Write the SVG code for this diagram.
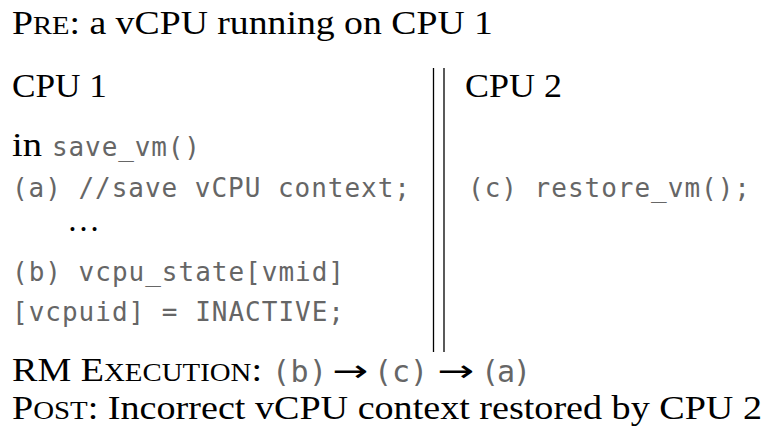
<svg xmlns="http://www.w3.org/2000/svg" width="768" height="438" viewBox="0 0 768 438">
<style>
.s{font-family:"Liberation Serif","Times New Roman",serif;font-size:33px;fill:#000}
.sc{font-size:25px}
.m{font-family:"DejaVu Sans Mono","Liberation Mono",monospace;font-size:26px;fill:#666}
.mf{font-family:"DejaVu Sans Mono","Liberation Mono",monospace;font-size:30px;fill:#666}
.ar{font-family:"DejaVu Sans","Liberation Sans",sans-serif;font-size:30px;fill:#000}
.sep{stroke:#000;stroke-width:1.3;fill:none}
</style>
<rect width="768" height="438" fill="#fff"/>
<g id="title">
<text class="s" x="12" y="34" textLength="481" lengthAdjust="spacingAndGlyphs">P<tspan class="sc">RE</tspan>: a vCPU running on CPU 1</text>
</g>
<g id="cpu1">
<text class="s" x="12" y="97" textLength="95" lengthAdjust="spacingAndGlyphs">CPU 1</text>
<text class="s" x="12" y="156" textLength="30" lengthAdjust="spacingAndGlyphs">in</text>
<text class="m" x="52" y="156" textLength="148" lengthAdjust="spacing">save_vm()</text>
<text class="m" x="12" y="197" textLength="398" lengthAdjust="spacing">(a) //save vCPU context;</text>
<text class="s" x="67" y="231">…</text>
<text class="m" x="12" y="281" textLength="332" lengthAdjust="spacing">(b) vcpu_state[vmid]</text>
<text class="m" x="12" y="321" textLength="332" lengthAdjust="spacing">[vcpuid] = INACTIVE;</text>
</g>
<g id="connectors">
<line class="sep" x1="433.5" y1="68" x2="433.5" y2="352"/>
<line class="sep" x1="444" y1="68" x2="444" y2="352"/>
</g>
<g id="cpu2">
<text class="s" x="465" y="97" textLength="97" lengthAdjust="spacingAndGlyphs">CPU 2</text>
<text class="m" x="468" y="197" textLength="282" lengthAdjust="spacing">(c) restore_vm();</text>
</g>
<g id="footer">
<text class="s" x="12" y="381" textLength="250" lengthAdjust="spacingAndGlyphs">RM E<tspan class="sc">XECUTION</tspan>:</text>
<text class="mf" x="272" y="382" textLength="55" lengthAdjust="spacing">(b)</text>
<text class="ar" x="332" y="381" textLength="36" lengthAdjust="spacingAndGlyphs">→</text>
<text class="mf" x="374" y="382" textLength="54" lengthAdjust="spacing">(c)</text>
<text class="ar" x="437" y="381" textLength="37" lengthAdjust="spacingAndGlyphs">→</text>
<text class="mf" x="481" y="382" textLength="50" lengthAdjust="spacing">(a)</text>
<text class="s" x="12" y="419" textLength="750" lengthAdjust="spacingAndGlyphs">P<tspan class="sc">OST</tspan>: Incorrect vCPU context restored by CPU 2</text>
</g>
</svg>
